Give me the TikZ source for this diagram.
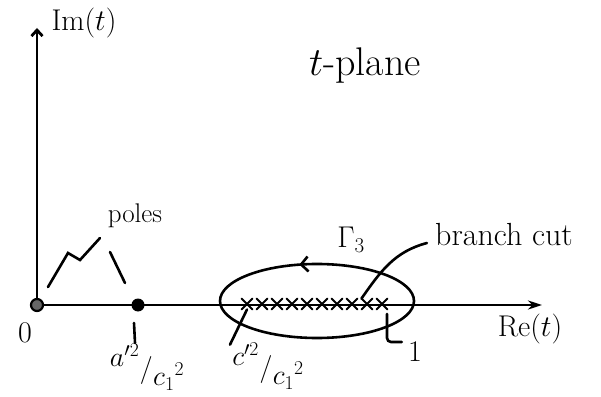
\RequirePackage{fix-cm}
\documentclass[tikz,border=0pt]{standalone}
\usetikzlibrary{arrows.meta,calc,decorations.markings,shapes.misc}
\newcommand{\handsize}{\fontsize{30}{34}\selectfont}
\newcommand{\slashfrac}[2]{\raisebox{0.38em}{$#1$}\kern0.02em\big/\kern0.02em\raisebox{-0.3em}{$#2$}}

\begin{document}
\begin{tikzpicture}[x=1pt, y=1pt, line width=2.6pt, line cap=round,
  every node/.style={font=\handsize, inner sep=1pt},
  axis/.style={line width=2.8pt},
  origin/.style={circle, draw, fill=black!60, line width=2.2pt, inner sep=0pt, minimum size=12pt},
  pole/.style={circle, fill, inner sep=0pt, minimum size=13pt},
  cutmark/.style={cross out, draw, line width=2pt, inner sep=0pt, minimum size=9pt},
  ratio/.style={font=\fontsize{28}{32}\selectfont},
  pointer/.style={line width=2.6pt}]
  \useasboundingbox (0,0) rectangle (601,396);
  % axes
  \node[origin] (O) at (37,91) {};
  \coordinate (imtip) at (37,368);
  \coordinate (retip) at (542,91);
  \draw[axis, -{Straight Barb[length=6pt,width=11pt]}] (O) -- (imtip);
  \draw[axis, -{Stealth[length=14pt,width=9pt]}] (O) -- (retip);
  \node (im) at (84,373) {Im$(t)$};
  \node (re) at (530,67) {Re$(t)$};
  \node[font=\fontsize{40}{44}\selectfont] (plane) at (365,330) {$t$-plane};
  \node (zero) at (25,63) {$0$};
  % poles
  \node[pole] (P) at (138,91) {};
  \node[font=\fontsize{27}{30}\selectfont] (poles) at (135,180) {poles};
  \draw[pointer] ($(O)+(11,18)$) -- ++(20,34) -- ++(12,-7) -- ++(20,22);
  \draw[pointer] ($(P)+(-28,53)$) -- ($(P)+(-13,22)$);
  \node[ratio] (apole) at (147,29) {\slashfrac{a'^2}{c_1{}^2}};
  \draw[pointer] ($(P)+(-4,-18)$) -- ($(P)+(-3,-38)$);
  % contour round the cut
  \coordinate (E) at (317,95);
  \draw[postaction={decorate}, decoration={markings,
      mark=at position 0.29 with {\arrow{Straight Barb[length=7pt,width=15pt]}}}]
    (E) ellipse [x radius=97pt, y radius=37pt];
  \node (gamma) at (351,156) {$\Gamma_3$};
  % branch cut
  \foreach \i in {0,...,9}
    \node[cutmark] (x\i) at ({247+15*\i},92) {};
  \node[font=\fontsize{32}{36}\selectfont] (cut) at (504,161) {branch cut};
  \draw[pointer] (x8.north west) to[out=55,in=195] ($(cut.west)+(-6,-8)$);
  \node[ratio] (cpole) at (268,30) {\slashfrac{c'^2}{c_1{}^2}};
  \draw[pointer] (x0.south) -- ($(cpole.north west)+(0,-4)$);
  \node (one) at (415,44) {$1$};
  \draw[pointer, rounded corners=4pt] ($(x9)+(5,-10)$) |- ($(one.west)+(-4,10)$);
\end{tikzpicture}
\end{document}
